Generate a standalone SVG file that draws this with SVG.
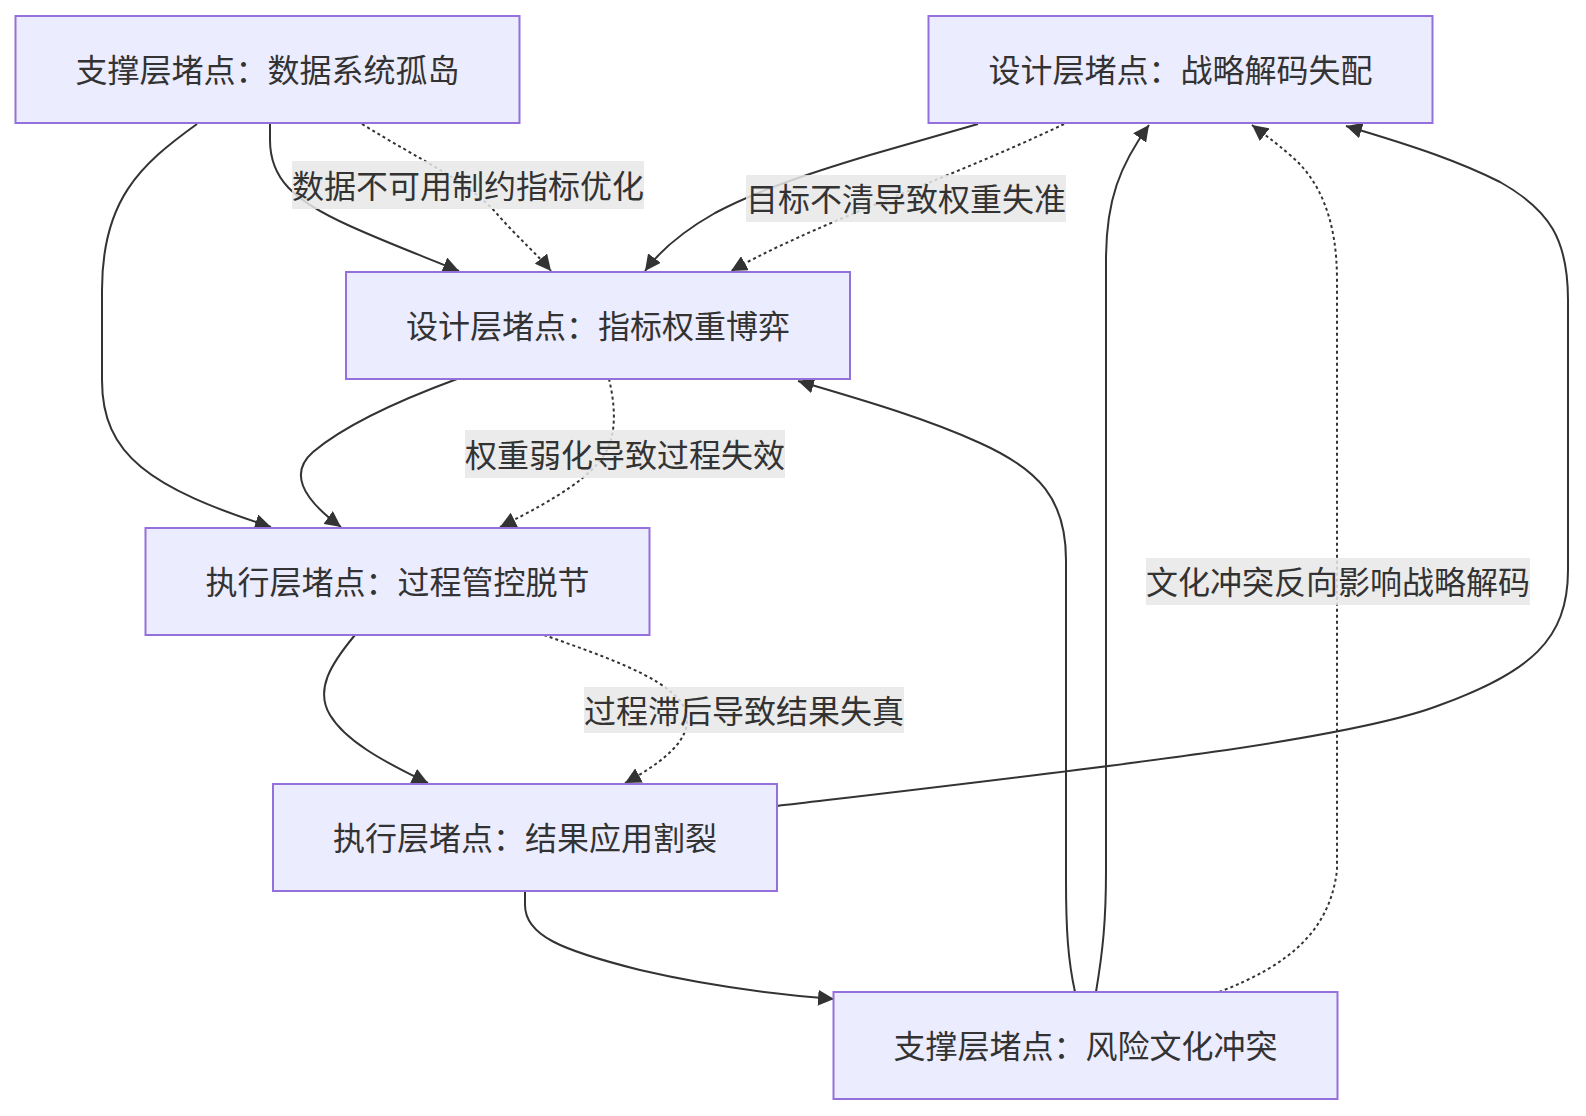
<svg xmlns="http://www.w3.org/2000/svg" width="1586" height="1116" viewBox="0 0 1586 1116">
<defs>
<style>
.node rect{fill:#ECECFF;stroke:#9370DB;stroke-width:2}
.node text,.elabel text{font-family:"Noto Sans CJK SC","Noto Sans",sans-serif;font-size:32px;fill:#333;text-anchor:middle;dominant-baseline:central}
.edge{fill:none;stroke:#333;stroke-width:2}
.dot{stroke-dasharray:3 3}
.elabel rect{fill:#e8e8e8;fill-opacity:0.85}
</style>
<marker id="arr" viewBox="0 0 10 10" refX="10" refY="5" markerWidth="16" markerHeight="16" markerUnits="userSpaceOnUse" orient="auto">
<path d="M0,0 L10,5 L0,10 z" fill="#333"/>
</marker>
</defs>
<rect width="1586" height="1116" fill="#ffffff"/>
<g id="connectors">
<path class="edge" marker-end="url(#arr)" d="M197,124 C140,165 102,200 102,290 L102,380 C102,455 150,488 271,527"/>
<path class="edge" marker-end="url(#arr)" d="M270,124 L270,140 C270,178 292,200 350,226 C390,244 420,255 459,271"/>
<path class="edge dot" marker-end="url(#arr)" d="M362,124 C420,160 470,182 498,215 C520,240 538,255 551,271"/>
<path class="edge" marker-end="url(#arr)" d="M978,124 L870,155 C800,176 755,192 715,213 C685,230 662,248 645,271"/>
<path class="edge dot" marker-end="url(#arr)" d="M1064,124 C1000,155 910,190 850,215 C800,236 765,252 731,271"/>
<path class="edge" marker-end="url(#arr)" d="M457,379 C400,400 345,425 313,452 C290,472 300,497 341,527"/>
<path class="edge dot" marker-end="url(#arr)" d="M609,379 C614,400 618,430 606,452 C592,476 560,497 500,527"/>
<path class="edge" marker-end="url(#arr)" d="M355,635 C330,665 315,690 330,715 C345,740 380,760 428,783"/>
<path class="edge dot" marker-end="url(#arr)" d="M544,635 C600,655 660,675 681,702 C697,727 682,752 625,783"/>
<path class="edge" marker-end="url(#arr)" d="M525,891 L525,905 C525,935 560,950 640,970 C700,984 770,994 834,999"/>
<path class="edge" marker-end="url(#arr)" d="M777,806 C1100,768 1350,740 1440,705 C1530,672 1568,640 1568,570 L1568,300 C1568,240 1550,210 1500,182 C1460,162 1420,148 1346,126"/>
<path class="edge" marker-end="url(#arr)" d="M1075,992 C1068,960 1066,930 1066,880 L1066,560 C1066,500 1040,470 980,443 C930,420 870,402 798,381"/>
<path class="edge" marker-end="url(#arr)" d="M1096,992 C1103,950 1106,920 1106,870 L1106,260 C1106,200 1120,165 1149,125"/>
<path class="edge dot" marker-end="url(#arr)" d="M1219,992 C1290,965 1330,930 1337,870 L1337,280 C1337,220 1320,180 1290,155 C1275,142 1265,135 1252,125"/>
</g>
<g id="edge-labels">
<g class="elabel"><rect x="292" y="161" width="352" height="48"/><text x="468" y="184">数据不可用制约指标优化</text></g>
<g class="elabel"><rect x="746" y="175" width="320" height="47"/><text x="906" y="197">目标不清导致权重失准</text></g>
<g class="elabel"><rect x="465" y="430" width="320" height="48"/><text x="625" y="453">权重弱化导致过程失效</text></g>
<g class="elabel"><rect x="584" y="687" width="320" height="46"/><text x="744" y="709">过程滞后导致结果失真</text></g>
<g class="elabel"><rect x="1146" y="558" width="384" height="47"/><text x="1338" y="580">文化冲突反向影响战略解码</text></g>
</g>
<g id="nodeA" class="node"><rect x="15.5" y="16" width="504" height="107"/><text x="267.5" y="68">支撑层堵点：数据系统孤岛</text></g>
<g id="nodeB" class="node"><rect x="928.5" y="16" width="504" height="107"/><text x="1180.5" y="68">设计层堵点：战略解码失配</text></g>
<g id="nodeC" class="node"><rect x="346" y="272" width="504" height="107"/><text x="598" y="324">设计层堵点：指标权重博弈</text></g>
<g id="nodeD" class="node"><rect x="145.5" y="528" width="504" height="107"/><text x="397.5" y="580">执行层堵点：过程管控脱节</text></g>
<g id="nodeE" class="node"><rect x="273" y="784" width="504" height="107"/><text x="525" y="836">执行层堵点：结果应用割裂</text></g>
<g id="nodeF" class="node"><rect x="833.5" y="992" width="504" height="107"/><text x="1085.5" y="1044">支撑层堵点：风险文化冲突</text></g>
</svg>
